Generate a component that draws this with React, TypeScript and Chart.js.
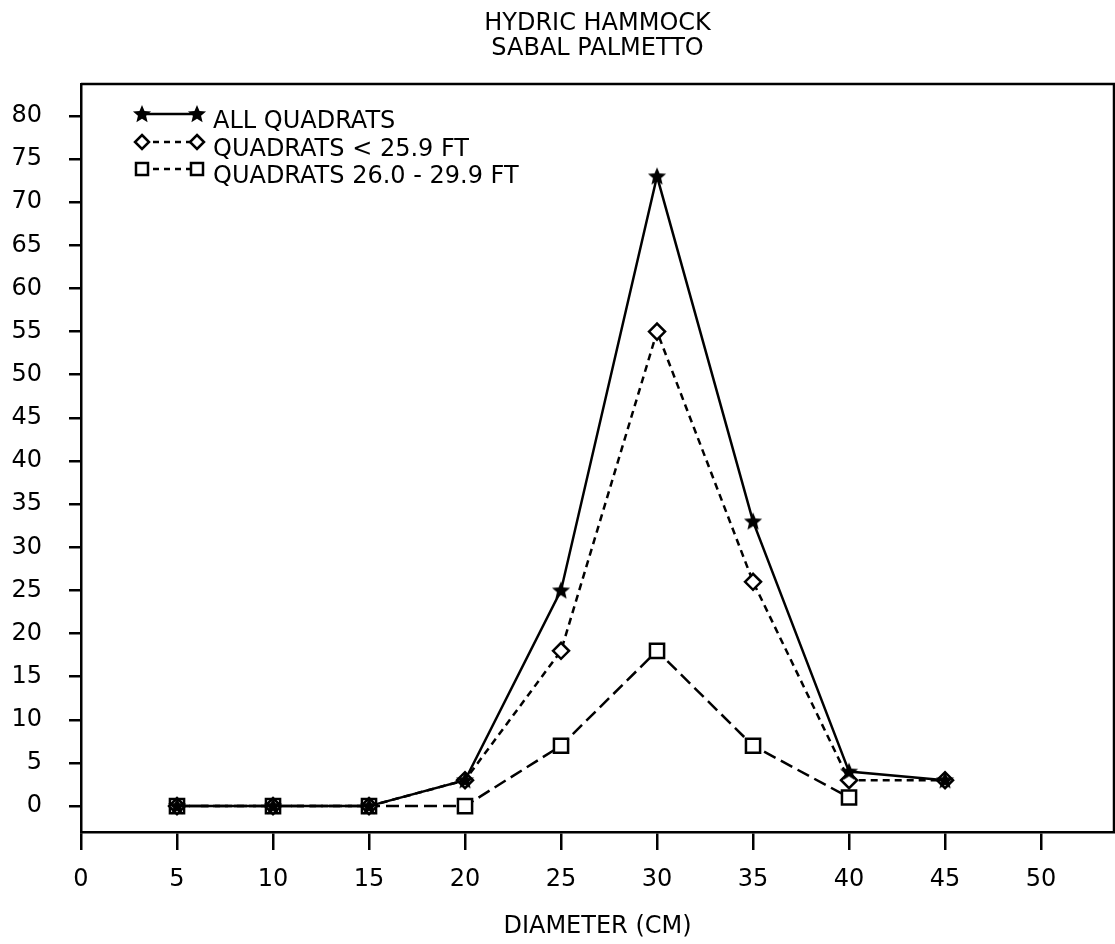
import React, { useEffect, useRef } from "react";
import { Chart, registerables } from "chart.js";

Chart.register(...registerables);

const titleLines = ["HYDRIC HAMMOCK", "SABAL PALMETTO"];
const xAxisTitle = "DIAMETER (CM)";
const diameters = [5, 10, 15, 20, 25, 30, 35, 40, 45];
const allQuadrats = [0, 0, 0, 3, 25, 73, 33, 4, 3];
const quadratsUnder259 = [0, 0, 0, 3, 18, 55, 26, 3, 3];
const quadrats260to299 = [0, 0, 0, 0, 7, 18, 7, 1, null];
const seriesLabels = ["ALL QUADRATS", "QUADRATS < 25.9 FT", "QUADRATS 26.0 - 29.9 FT"];
const xTicks = [0, 5, 10, 15, 20, 25, 30, 35, 40, 45, 50];
const yTicks = [0, 5, 10, 15, 20, 25, 30, 35, 40, 45, 50, 55, 60, 65, 70, 75, 80];

const FONT = '"DejaVu Sans", "Liberation Sans", sans-serif';

function makeStar(size: number): HTMLCanvasElement {
  const c = document.createElement("canvas");
  c.width = size;
  c.height = size;
  const ctx = c.getContext("2d")!;
  const cx = size / 2, cy = size / 2 + 0.5;
  const ro = size / 2 - 0.5, ri = ro * 0.45;
  ctx.beginPath();
  for (let i = 0; i < 10; i++) {
    const r = i % 2 === 0 ? ro : ri;
    const a = -Math.PI / 2 + (i * Math.PI) / 5;
    const px = cx + r * Math.cos(a), py = cy + r * Math.sin(a);
    if (i === 0) ctx.moveTo(px, py); else ctx.lineTo(px, py);
  }
  ctx.closePath();
  ctx.fillStyle = "#000";
  ctx.fill();
  return c;
}

function toPoints(vals: (number | null)[]) {
  const pts: { x: number; y: number }[] = [];
  vals.forEach((v, i) => {
    if (v !== null) pts.push({ x: diameters[i], y: v });
  });
  return pts;
}

export default function App() {
  const ref = useRef<HTMLCanvasElement>(null);

  useEffect(() => {
    const canvas = ref.current!;
    const STAR = 20;
    const star = makeStar(STAR);

    const framePlugin = {
      id: "frameAndText",
      afterDraw(chart: any) {
        const { ctx, chartArea } = chart;
        const { left, right, top, bottom } = chartArea;
        ctx.save();
        ctx.strokeStyle = "#000";
        ctx.lineWidth = 2.5;
        ctx.beginPath();
        ctx.moveTo(left, top);
        ctx.lineTo(right, top);
        ctx.lineTo(right, bottom);
        ctx.stroke();
        ctx.fillStyle = "#000";
        ctx.font = `24px ${FONT}`;
        ctx.textAlign = "center";
        ctx.textBaseline = "alphabetic";
        const cx = (left + right) / 2;
        titleLines.forEach((t, i) => ctx.fillText(t, cx, 30 + i * 25));
        const rowY = [114, 142, 169];
        const x1 = 142, x2 = 197, tx = 213;
        chart.data.datasets.forEach((ds: any, i: number) => {
          const y = rowY[i];
          ctx.strokeStyle = "#000";
          ctx.lineWidth = 2.5;
          ctx.setLineDash(i === 0 ? [] : [6, 5]);
          ctx.beginPath();
          ctx.moveTo(x1, y);
          ctx.lineTo(x2, y);
          ctx.stroke();
          ctx.setLineDash([]);
          [x1, x2].forEach((mx) => {
            if (i === 0) {
              ctx.drawImage(star, mx - STAR / 2, y - STAR / 2);
            } else if (i === 1) {
              const r = 7;
              ctx.beginPath();
              ctx.moveTo(mx, y - r);
              ctx.lineTo(mx + r, y);
              ctx.lineTo(mx, y + r);
              ctx.lineTo(mx - r, y);
              ctx.closePath();
              ctx.fillStyle = "#fff";
              ctx.fill();
              ctx.stroke();
            } else {
              const s = 6;
              ctx.fillStyle = "#fff";
              ctx.fillRect(mx - s, y - s, 2 * s, 2 * s);
              ctx.strokeRect(mx - s, y - s, 2 * s, 2 * s);
            }
          });
          ctx.fillStyle = "#000";
          ctx.textAlign = "left";
          ctx.fillText(ds.label, tx, y + 14);
        });
        ctx.restore();
      },
    };

    const chart = new Chart(canvas, {
      type: "line",
      data: {
        datasets: [
          {
            label: seriesLabels[0],
            data: toPoints(allQuadrats),
            borderColor: "#000",
            borderWidth: 2.5,
            pointStyle: star as any,
            pointRadius: 10,
            backgroundColor: "#000",
            tension: 0,
          },
          {
            label: seriesLabels[1],
            data: toPoints(quadratsUnder259),
            borderColor: "#000",
            borderWidth: 2.5,
            borderDash: [7, 5],
            pointStyle: "rectRot",
            pointRadius: 8,
            pointBorderWidth: 2.5,
            pointBackgroundColor: "#fff",
            pointBorderColor: "#000",
            tension: 0,
          },
          {
            label: seriesLabels[2],
            data: toPoints(quadrats260to299),
            borderColor: "#000",
            borderWidth: 2.5,
            borderDash: [13, 6],
            pointStyle: "rect",
            pointRadius: 10,
            pointBorderWidth: 2.5,
            pointBackgroundColor: "#fff",
            pointBorderColor: "#000",
            tension: 0,
          },
        ],
      },
      options: {
        responsive: false,
        animation: false,
        devicePixelRatio: 1,
        layout: { autoPadding: false, padding: { top: 84, right: 1, left: 0, bottom: 0 } },
        plugins: { legend: { display: false }, title: { display: false }, tooltip: { enabled: false } },
        scales: {
          x: {
            type: "linear",
            min: 0,
            max: 53.8,
            afterFit(scale: any) {
              scale.height = 112;
              scale.paddingLeft = 0;
              scale.paddingRight = 0;
            },
            afterBuildTicks(scale: any) {
              scale.ticks = xTicks.map((v) => ({ value: v }));
            },
            grid: {
              drawOnChartArea: false,
              drawTicks: true,
              tickLength: 18,
              color: "#000",
              lineWidth: 2.5,
            },
            border: { display: true, color: "#000", width: 2.5 },
            ticks: {
              autoSkip: false,
              maxRotation: 0,
              padding: 15,
              color: "#000",
              font: { family: FONT, size: 24 },
            },
            title: {
              display: true,
              text: xAxisTitle,
              color: "#000",
              font: { family: FONT, size: 24 },
              padding: { top: 0, bottom: 3 },
            },
          },
          y: {
            type: "linear",
            min: -3,
            max: 83.7,
            afterFit(scale: any) {
              scale.width = 81;
              scale.paddingTop = 0;
              scale.paddingBottom = 0;
            },
            afterBuildTicks(scale: any) {
              scale.ticks = yTicks.map((v) => ({ value: v }));
            },
            grid: {
              drawOnChartArea: false,
              drawTicks: true,
              tickLength: 12,
              color: "#000",
              lineWidth: 2.5,
            },
            border: { display: true, color: "#000", width: 2.5 },
            ticks: {
              autoSkip: false,
              padding: 27,
              color: "#000",
              font: { family: FONT, size: 24 },
            },
          },
        },
      },
      plugins: [framePlugin],
    });

    return () => chart.destroy();
  }, []);

  return (
    <div style={{ position: "absolute", left: 0, top: 0, width: 1115, height: 944, background: "#fff" }}>
      <canvas ref={ref} width={1115} height={944} style={{ width: 1115, height: 944, display: "block" }} />
    </div>
  );
}
